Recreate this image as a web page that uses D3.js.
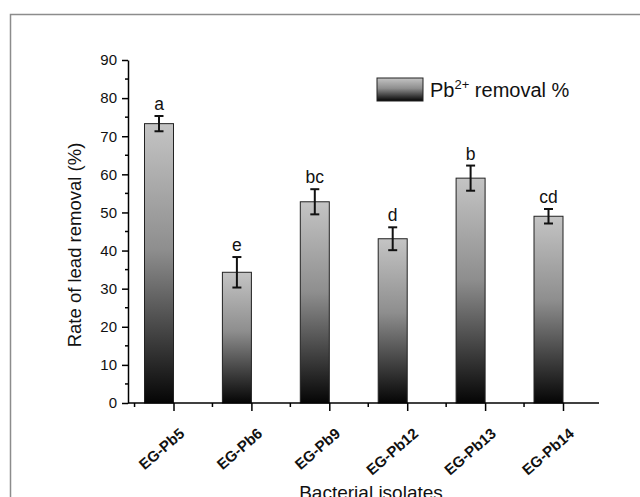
<!DOCTYPE html>
<html>
<head>
<meta charset="utf-8">
<script src="https://cdn.jsdelivr.net/npm/d3@7"></script>
<style>
  body { margin: 0; background: #fff; }
  text { font-family: Arial, "Liberation Sans", sans-serif; }
</style>
</head>
<body>
<script>
// data
var isolates = ["EG-Pb5", "EG-Pb6", "EG-Pb9", "EG-Pb12", "EG-Pb13", "EG-Pb14"];
var removal = [73.3, 34.3, 52.8, 43.1, 59.0, 49.0];
var errors = [2.0, 4.0, 3.3, 3.0, 3.3, 1.9];
var letters = ["a", "e", "bc", "d", "b", "cd"];
var yTicks = [0, 10, 20, 30, 40, 50, 60, 70, 80, 90];

var width = 640, height = 497;

var svg = d3.select("body").append("svg")
    .attr("width", width).attr("height", height);

// gradient used by the bars and the legend swatch
var defs = svg.append("defs");
var grad = defs.append("linearGradient").attr("id", "barGrad")
    .attr("x1", 0).attr("y1", 0).attr("x2", 0).attr("y2", 1);
grad.append("stop").attr("offset", "0%").attr("stop-color", "#c4c4c4");
grad.append("stop").attr("offset", "45%").attr("stop-color", "#8e8e8e");
grad.append("stop").attr("offset", "100%").attr("stop-color", "#050505");

// grey frame around the figure
svg.append("path")
    .attr("d", "M10.5,497 L10.5,14.5 L640,14.5")
    .attr("fill", "none").attr("stroke", "#8c8c8c").attr("stroke-width", 1.5);

var axisLeft = 128, axisRight = 599, axisBottom = 403, axisTop = 60;

var y = d3.scaleLinear().domain([0, 90]).range([axisBottom, axisTop]);
// tick positions: bars sit just left of each major tick
var x = d3.scalePoint().domain(isolates).range([173.5, 563]);
var step = x.step();
var barW = 29;

// bars
svg.selectAll("rect.bar").data(isolates).enter().append("rect")
    .attr("class", "bar")
    .attr("x", function(d) { return x(d) - barW; })
    .attr("y", function(d, i) { return y(removal[i]); })
    .attr("width", barW)
    .attr("height", function(d, i) { return y(0) - y(removal[i]); })
    .attr("fill", "url(#barGrad)")
    .attr("stroke", "#222").attr("stroke-width", 1);

// error bars
var eb = svg.selectAll("g.err").data(isolates).enter().append("g").attr("class", "err");
eb.append("line")
    .attr("x1", function(d) { return x(d) - barW / 2; })
    .attr("x2", function(d) { return x(d) - barW / 2; })
    .attr("y1", function(d, i) { return y(removal[i] + errors[i]); })
    .attr("y2", function(d, i) { return y(removal[i] - errors[i]); });
eb.append("line")
    .attr("x1", function(d) { return x(d) - barW / 2 - 4.5; })
    .attr("x2", function(d) { return x(d) - barW / 2 + 4.5; })
    .attr("y1", function(d, i) { return y(removal[i] + errors[i]); })
    .attr("y2", function(d, i) { return y(removal[i] + errors[i]); });
eb.append("line")
    .attr("x1", function(d) { return x(d) - barW / 2 - 4.5; })
    .attr("x2", function(d) { return x(d) - barW / 2 + 4.5; })
    .attr("y1", function(d, i) { return y(removal[i] - errors[i]); })
    .attr("y2", function(d, i) { return y(removal[i] - errors[i]); });
eb.selectAll("line").attr("stroke", "#111").attr("stroke-width", 2);

// significance letters
svg.selectAll("text.sig").data(isolates).enter().append("text")
    .attr("class", "sig")
    .attr("x", function(d) { return x(d) - barW / 2; })
    .attr("y", function(d, i) { return y(removal[i] + errors[i]) - 6; })
    .attr("text-anchor", "middle")
    .attr("font-size", "17.5px").attr("fill", "#111")
    .text(function(d, i) { return letters[i]; });

// y axis
var yAxis = svg.append("g").attr("transform", "translate(" + axisLeft + ",0)")
    .call(d3.axisLeft(y).tickValues(yTicks).tickSize(6).tickPadding(5).tickSizeOuter(0));
// minor y ticks
svg.append("g").selectAll("line").data(d3.range(5, 90, 10)).enter().append("line")
    .attr("x1", axisLeft - 3).attr("x2", axisLeft)
    .attr("y1", function(d) { return y(d); }).attr("y2", function(d) { return y(d); })
    .attr("stroke", "#000").attr("stroke-width", 1.5);

// x axis
var xAxis = svg.append("g").attr("transform", "translate(0," + axisBottom + ")");
xAxis.append("line").attr("x1", axisLeft).attr("x2", axisRight)
    .attr("stroke", "#000").attr("stroke-width", 1.5);
xAxis.call(d3.axisBottom(x).tickSize(8).tickSizeOuter(0).tickFormat(""));
xAxis.select(".domain").remove();
// minor x ticks midway between categories
svg.append("g").selectAll("line").data(isolates).enter().append("line")
    .attr("x1", function(d) { return x(d) - step / 2; })
    .attr("x2", function(d) { return x(d) - step / 2; })
    .attr("y1", axisBottom).attr("y2", axisBottom + 4)
    .attr("stroke", "#000").attr("stroke-width", 1.5);

// rotated category labels
svg.append("g").selectAll("text").data(isolates).enter().append("text")
    .attr("transform", function(d) { return "translate(" + (x(d) + 12) + "," + (axisBottom + 32) + ") rotate(-41)"; })
    .attr("text-anchor", "end")
    .attr("font-size", "15px").attr("font-weight", "bold").attr("fill", "#111")
    .text(function(d) { return d; });

[yAxis].forEach(function(g) {
  g.select(".domain").attr("stroke-width", 1.5);
  g.selectAll(".tick line").attr("stroke-width", 1.5);
  g.selectAll(".tick text").attr("font-size", "15px").attr("fill", "#111")
    .style("font-family", "Arial, 'Liberation Sans', sans-serif");
});
xAxis.selectAll(".tick line").attr("stroke-width", 1.5);

// axis titles
svg.append("text")
    .attr("transform", "translate(81,245) rotate(-90)")
    .attr("text-anchor", "middle").attr("font-size", "18.5px").attr("fill", "#111")
    .text("Rate of lead removal (%)");
svg.append("text")
    .attr("x", 371).attr("y", 499)
    .attr("text-anchor", "middle").attr("font-size", "19px").attr("fill", "#111")
    .text("Bacterial isolates");

// legend
svg.append("rect").attr("x", 377).attr("y", 78).attr("width", 46).attr("height", 23)
    .attr("fill", "url(#barGrad)").attr("stroke", "#222").attr("stroke-width", 1);
var leg = svg.append("text").attr("x", 430).attr("y", 97)
    .attr("font-size", "20px").attr("fill", "#111");
leg.append("tspan").text("Pb");
leg.append("tspan").attr("dy", -8).attr("font-size", "13px").text("2+");
leg.append("tspan").attr("dy", 8).text(" removal %");
</script>
</body>
</html>
